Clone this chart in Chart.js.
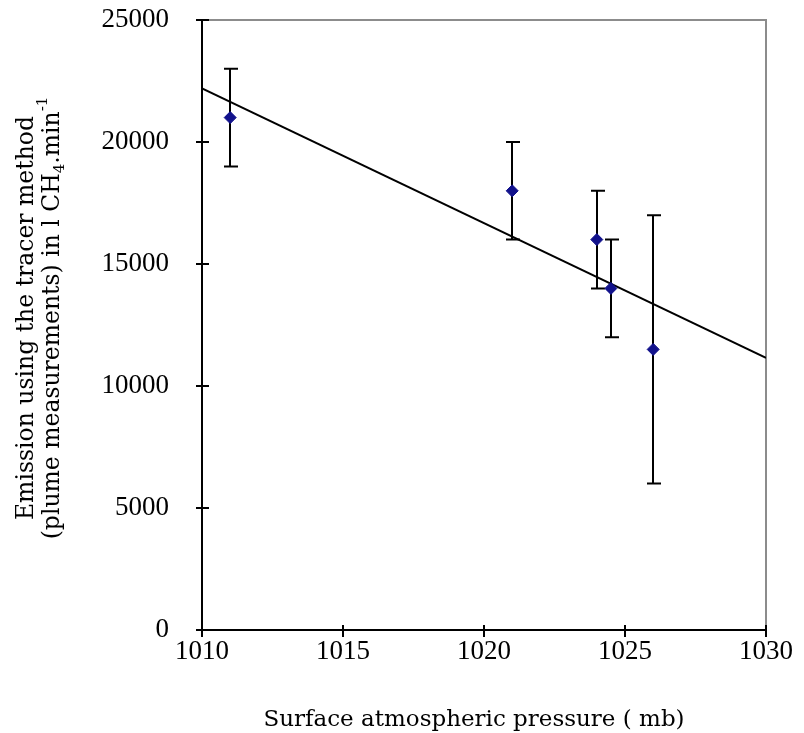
<!DOCTYPE html>
<html>
<head>
<meta charset="utf-8">
<script src="https://cdn.jsdelivr.net/npm/chart.js@4/dist/chart.umd.min.js"></script>
<style>
  body { margin: 0; background: #fff; }
  #wrap { width: 804px; height: 733px; position: relative; }
</style>
</head>
<body>
<div id="wrap"><canvas id="chart"></canvas></div>
<script>
// Measured points (pressure in mb, emission in l CH4/min)
const pressure = [1011, 1021, 1024, 1024.5, 1026];
const emission = [21000, 18000, 16000, 14000, 11500];
const errLow = [19000, 16000, 14000, 12000, 6000];
const errHigh = [23000, 20000, 18000, 16000, 17000];

// Linear trend line read at the axis ends
const trendX = [1010, 1030];
const trendY = [22200, 11150];

const xTicks = [1010, 1015, 1020, 1025, 1030];
const yTicks = [0, 5000, 10000, 15000, 20000, 25000];

const FONT = "'Liberation Serif', 'Times New Roman', serif";
const TITLE_FONT = "'DejaVu Serif', serif";
Chart.defaults.font.family = FONT;
Chart.defaults.font.size = 27;
Chart.defaults.color = '#000';

// Error bars, tick marks, frame and axis titles
const decor = {
  id: 'decor',
  beforeDraw(chart) {
    const { ctx, chartArea: a } = chart;
    ctx.save();
    ctx.strokeStyle = '#8c8c8c';
    ctx.lineWidth = 2;
    ctx.beginPath();
    ctx.moveTo(a.left, a.top);
    ctx.lineTo(a.right, a.top);
    ctx.lineTo(a.right, a.bottom);
    ctx.stroke();
    ctx.restore();
  },
  beforeDatasetsDraw(chart) {
    const { ctx, scales: { x, y } } = chart;
    ctx.save();
    ctx.strokeStyle = '#000';
    ctx.lineWidth = 2;
    pressure.forEach((p, i) => {
      const px = Math.round(x.getPixelForValue(p));
      const top = y.getPixelForValue(errHigh[i]);
      const bot = y.getPixelForValue(errLow[i]);
      ctx.beginPath();
      ctx.moveTo(px, top);
      ctx.lineTo(px, bot);
      ctx.moveTo(px - 6, top);
      ctx.lineTo(px + 8, top);
      ctx.moveTo(px - 6, bot);
      ctx.lineTo(px + 8, bot);
      ctx.stroke();
    });
    ctx.restore();
  },
  afterDraw(chart) {
    const { ctx, chartArea: a, scales: { x, y } } = chart;
    ctx.save();
    ctx.strokeStyle = '#000';
    ctx.lineWidth = 2;
    ctx.beginPath();
    yTicks.forEach(v => {
      const py = Math.round(y.getPixelForValue(v));
      ctx.moveTo(a.left - 6, py);
      ctx.lineTo(a.left + 7, py);
    });
    xTicks.forEach(v => {
      const px = Math.round(x.getPixelForValue(v));
      ctx.moveTo(px, a.bottom - 5);
      ctx.lineTo(px, a.bottom + 7);
    });
    ctx.stroke();

    ctx.fillStyle = '#000';
    // x title
    ctx.font = '23px ' + TITLE_FONT;
    ctx.textAlign = 'center';
    ctx.textBaseline = 'alphabetic';
    ctx.fillText('Surface atmospheric pressure ( mb)', 474, 726);

    // y title, two lines rotated
    ctx.translate(0, 318);
    ctx.rotate(-Math.PI / 2);
    ctx.font = '23.5px ' + TITLE_FONT;
    ctx.fillText('Emission using the tracer method', 0, 33);

    const big = '23.5px ' + TITLE_FONT;
    const small = '15px ' + TITLE_FONT;
    const parts = [
      { t: '(plume measurements) in l CH', f: big, dy: 0 },
      { t: '4', f: small, dy: 5 },
      { t: '.min', f: big, dy: 0 },
      { t: '-1', f: small, dy: -12 }
    ];
    let total = 0;
    parts.forEach(p => { ctx.font = p.f; p.w = ctx.measureText(p.t).width; total += p.w; });
    let cx = -total / 2;
    ctx.textAlign = 'left';
    parts.forEach(p => {
      ctx.font = p.f;
      ctx.fillText(p.t, cx, 59 + p.dy);
      cx += p.w;
    });
    ctx.restore();
  }
};

new Chart(document.getElementById('chart'), {
  type: 'scatter',
  data: {
    datasets: [
      {
        label: 'Emission',
        data: pressure.map((p, i) => ({ x: p, y: emission[i] })),
        pointStyle: 'rectRot',
        pointRadius: 6,
        pointHoverRadius: 6,
        backgroundColor: '#12128c',
        borderColor: '#12128c',
        borderWidth: 1,
        order: 1
      },
      {
        label: 'Trend',
        type: 'line',
        data: trendX.map((v, i) => ({ x: v, y: trendY[i] })),
        borderColor: '#000',
        borderWidth: 2,
        pointRadius: 0,
        fill: false,
        order: 2
      }
    ]
  },
  plugins: [decor],
  options: {
    responsive: true,
    maintainAspectRatio: false,
    animation: false,
    layout: { padding: { top: 20, right: 38, left: 0, bottom: 0 } },
    plugins: {
      legend: { display: false },
      tooltip: { enabled: false }
    },
    scales: {
      x: {
        type: 'linear',
        min: 1010,
        max: 1030,
        afterFit(scale) { scale.height = 103; scale.paddingLeft = 0; scale.paddingRight = 0; },
        afterBuildTicks(scale) { scale.ticks = xTicks.map(v => ({ value: v })); },
        grid: { display: false, drawTicks: false },
        border: { display: true, color: '#000', width: 2 },
        ticks: { padding: 6, maxRotation: 0, callback: v => String(v) }
      },
      y: {
        min: 0,
        max: 25000,
        afterFit(scale) { scale.width = 202; scale.paddingTop = 0; scale.paddingBottom = 0; },
        afterBuildTicks(scale) { scale.ticks = yTicks.map(v => ({ value: v })); },
        grid: { display: false, drawTicks: false },
        border: { display: true, color: '#000', width: 2 },
        ticks: { padding: 33, callback: v => String(v) }
      }
    }
  }
});
</script>
</body>
</html>
